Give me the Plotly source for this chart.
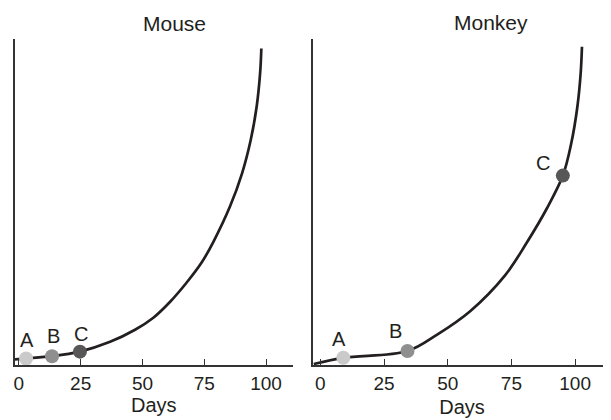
import plotly.graph_objects as go

# ---- data ----
mouse_days = [-1.6, 2.9, 13.4, 24.7, 36.9, 47.0, 54.4, 61.2, 67.9, 74.0, 78.7, 85.4, 90.3, 93.8, 96.2, 97.6, 98.1]
mouse_level = [1.7, 2.0, 2.7, 4.1, 7.1, 10.8, 14.5, 19.4, 25.3, 31.5, 37.8, 48.6, 58.8, 69.0, 79.2, 89.5, 97.1]

monkey_days = [-2.6, 9.0, 34.2, 46.0, 58.8, 72.5, 81.0, 88.9, 95.2, 98.5, 100.9, 102.2, 102.7]
monkey_level = [0.3, 2.2, 4.3, 9.4, 16.5, 27.5, 37.5, 48.0, 58.1, 68.0, 79.2, 89.5, 97.6]

stage_labels = ["A", "B", "C"]
stage_colors = ["#cacaca", "#8f8f8f", "#575757"]
mouse_stage_days = [2.9, 13.4, 24.7]
mouse_stage_level = [2.0, 2.7, 4.1]
monkey_stage_days = [9.0, 34.2, 95.2]
monkey_stage_level = [2.2, 4.3, 58.1]

panel_titles = ["Mouse", "Monkey"]
tick_vals = [0, 25, 50, 75, 100]
x_title = "Days"

font_family = "Liberation Sans, Arial, sans-serif"
ink = "#231f20"
axis_ink = "#333333"

# label offsets (pixels) relative to each marker: styling only
mouse_label_shift = [(1, 18), (1, 20), (1, 18)]
monkey_label_shift = [(-4, 19), (-12, 20), (-20, 13)]

fig = go.Figure()

fig.add_trace(go.Scatter(x=mouse_days, y=mouse_level, mode="lines",
                         line=dict(color=ink, width=2.7, shape="spline", smoothing=1.0),
                         xaxis="x", yaxis="y", showlegend=False, hoverinfo="skip"))
fig.add_trace(go.Scatter(x=monkey_days, y=monkey_level, mode="lines",
                         line=dict(color=ink, width=2.7, shape="spline", smoothing=1.0),
                         xaxis="x2", yaxis="y2", showlegend=False, hoverinfo="skip"))

fig.add_trace(go.Scatter(x=mouse_stage_days, y=mouse_stage_level, mode="markers",
                         marker=dict(size=14, color=stage_colors),
                         xaxis="x", yaxis="y", showlegend=False))
fig.add_trace(go.Scatter(x=monkey_stage_days, y=monkey_stage_level, mode="markers",
                         marker=dict(size=14, color=stage_colors),
                         xaxis="x2", yaxis="y2", showlegend=False))

annotations = []
for lbl, xv, yv, (dx, dy) in zip(stage_labels, mouse_stage_days, mouse_stage_level, mouse_label_shift):
    annotations.append(dict(text=lbl, x=xv, y=yv, xref="x", yref="y", showarrow=False,
                            xanchor="center", yanchor="middle", xshift=dx, yshift=dy,
                            font=dict(size=20, color=ink, family=font_family)))
for lbl, xv, yv, (dx, dy) in zip(stage_labels, monkey_stage_days, monkey_stage_level, monkey_label_shift):
    annotations.append(dict(text=lbl, x=xv, y=yv, xref="x2", yref="y2", showarrow=False,
                            xanchor="center", yanchor="middle", xshift=dx, yshift=dy,
                            font=dict(size=20, color=ink, family=font_family)))
annotations.append(dict(text=panel_titles[0], x=0.2769, y=0.9612, xref="paper", yref="paper",
                        xanchor="center", yanchor="middle", showarrow=False,
                        font=dict(size=21, color=ink, family=font_family)))
annotations.append(dict(text=panel_titles[1], x=0.801, y=0.966, xref="paper", yref="paper",
                        xanchor="center", yanchor="middle", showarrow=False,
                        font=dict(size=21, color=ink, family=font_family)))

axis_common = dict(showgrid=False, zeroline=False, showline=True, linecolor=axis_ink, linewidth=1.6,
                   ticks="inside", ticklen=6, tickwidth=1.4, tickcolor=axis_ink, automargin=False,
                   tickfont=dict(size=19, color=ink, family=font_family))
yaxis_common = dict(domain=[0.1335, 0.9248], range=[0, 100], showgrid=False, zeroline=False,
                    showline=True, linecolor=axis_ink, linewidth=1.6, showticklabels=False,
                    ticks="", automargin=False)

fig.update_layout(
    width=603, height=412,
    margin=dict(l=0, r=0, t=0, b=0),
    paper_bgcolor="white", plot_bgcolor="white",
    font=dict(family=font_family, color=ink),
    xaxis=dict(domain=[0.0111, 0.4726], range=[-1.7, 110.9], tickvals=tick_vals,
               title=dict(text=x_title, font=dict(size=20, color=ink), standoff=0),
               anchor="y", **axis_common),
    yaxis=dict(anchor="x", **yaxis_common),
    xaxis2=dict(domain=[0.5058, 1.0], range=[-2.9, 114.1], tickvals=tick_vals,
                title=dict(text=x_title, font=dict(size=20, color=ink), standoff=7),
                anchor="y2", **axis_common),
    yaxis2=dict(anchor="x2", **yaxis_common),
    annotations=annotations,
)

fig.write_html("out.html")
